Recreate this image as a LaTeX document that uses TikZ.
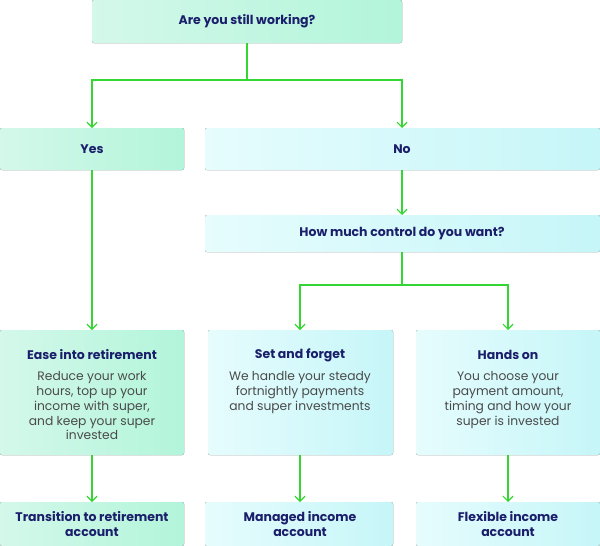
\documentclass[tikz,border=0pt]{standalone}
\usepackage{fontspec}
\setmainfont{Poppins}
\usetikzlibrary{arrows.meta}
\definecolor{navy}{HTML}{1B1F6B}
\definecolor{body}{HTML}{4A4A4A}
\definecolor{lgreen}{HTML}{D4F8EA}
\definecolor{mgreen}{HTML}{B2F5DA}
\definecolor{lcyan}{HTML}{E6FCFD}
\definecolor{mcyan}{HTML}{C6F6F8}
\definecolor{ln}{HTML}{33D633}
\begin{document}
\begin{tikzpicture}[x=1pt,y=-1pt,
  box/.style={rounded corners=2pt,draw=none},
  gbox/.style={box,left color=lgreen,right color=mgreen},
  cbox/.style={box,left color=lcyan,right color=mcyan},
  ttl/.style={font=\fontsize{12.5}{15}\selectfont\bfseries,text=navy,align=center},
  txt/.style={font=\fontsize{12.3}{14.8}\selectfont,text=body,align=center},
  con/.style={draw=ln,line width=1.2pt},
  arr/.style={con,-{Straight Barb[length=5pt,width=10pt,line width=1.2pt]}}]
\useasboundingbox (0,0) rectangle (600,546);
\fill[gbox] (92,0) rectangle (402,43);
\node[ttl] (q) at (247,21.5) {Are you still working?};
\fill[gbox] (0,128) rectangle (184,170);
\node[ttl] (yes) at (92,149) {Yes};
\fill[cbox] (205,128) rectangle (600,170);
\node[ttl] (no) at (402,149) {No};
\fill[cbox] (205,215) rectangle (600,252);
\node[ttl] (how) at (402,233.5) {How much control do you want?};
\fill[gbox] (0,330) rectangle (184,455);
\node[ttl] (ease) at (92,355) {Ease into retirement};
\node[txt,anchor=north] (easet) at (92,368) {Reduce your work\\hours, top up your\\income with super,\\and keep your super\\invested};
\fill[cbox] (208,330) rectangle (393,455);
\node[ttl] (set) at (300,355) {Set and forget};
\node[txt,anchor=north] (sett) at (300,368) {We handle your steady\\fortnightly payments\\and super investments};
\fill[cbox] (416,330) rectangle (600,455);
\node[ttl] (hands) at (508,355) {Hands on};
\node[txt,anchor=north] (handst) at (508,368) {You choose your\\payment amount,\\timing and how your\\super is invested};
\fill[gbox] (0,502) rectangle (184,546);
\node[ttl] (tra) at (92,524) {Transition to retirement\\account};
\fill[cbox] (205,502) rectangle (393,546);
\node[ttl] (man) at (300,524) {Managed income\\account};
\fill[cbox] (416,502) rectangle (600,546);
\node[ttl] (flex) at (508,524) {Flexible income\\account};
\coordinate (s1) at (247,43); \coordinate (j1) at (247,80);
\coordinate (yt) at (92,128); \coordinate (nt) at (402,128);
\draw[con] (s1) -- (j1);
\draw[arr] (j1) -| (yt);
\draw[arr] (j1) -| (nt);
\draw[arr] (92,170) -- (92,330);
\draw[arr] (402,170) -- (402,215);
\coordinate (j2) at (402,285);
\draw[con] (402,252) -- (j2);
\draw[arr] (j2) -| (300,330);
\draw[arr] (j2) -| (508,330);
\draw[arr] (92,455) -- (92,502);
\draw[arr] (300,455) -- (300,502);
\draw[arr] (508,455) -- (508,502);
\end{tikzpicture}
\end{document}
